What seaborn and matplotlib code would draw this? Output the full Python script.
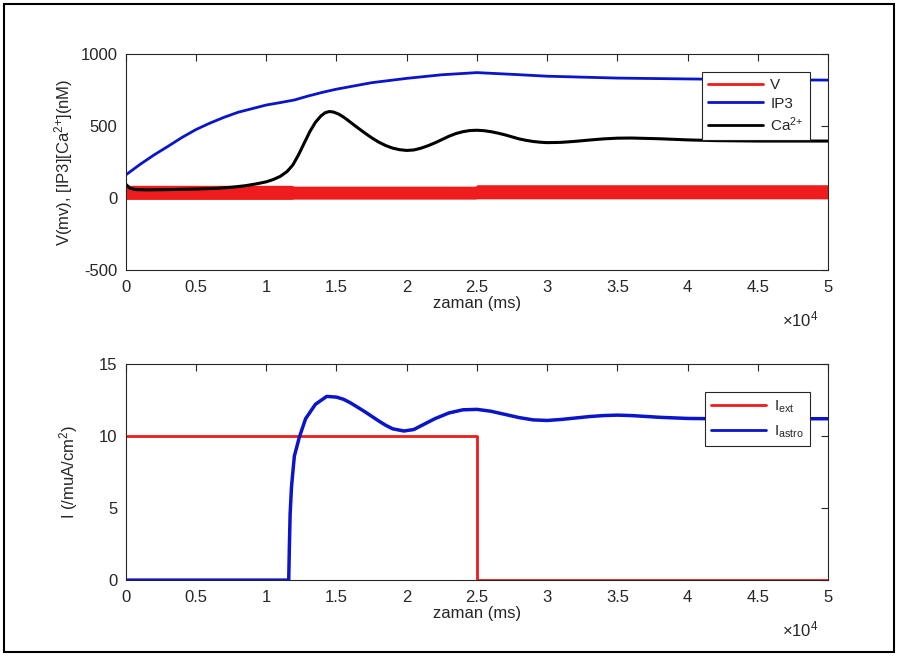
"""
Astrocyte-neuron model: V, IP3, Ca2+ traces and injected currents.
"""

import numpy as np
import pandas as pd
import matplotlib
matplotlib.use('Agg')
import matplotlib.pyplot as plt
from matplotlib.lines import Line2D
from matplotlib.patches import Rectangle
import seaborn as sns

# ---- data (time in ms) ----
ip3_time = [0, 1000, 2000, 3000, 4000, 5000, 6000, 7000,
            8000, 9000, 10000, 11000, 12000, 13000, 14000, 15000, 17500,
            20000, 22500, 25000, 27500, 30000, 35000, 40000, 45000, 50000]
ip3_vals = [160, 232, 298, 358, 420, 475, 520, 560,
            595, 620, 645, 662, 680, 708, 733, 755, 800,
            830, 855, 870, 858, 845, 832, 826, 821, 818]

ca_time = [0, 300, 700, 1500, 3000, 5000, 6500, 7500, 8500, 9300, 10000,
           10500, 11000, 11500, 11900, 12300, 12700, 13100, 13500, 13900,
           14200, 14500, 14800, 15200, 15600, 16000, 16500, 17000, 17500,
           18000, 18500, 19000, 19500, 20000, 20500, 21000, 21500, 22000,
           22500, 23000, 23500, 24000, 24500, 25000, 25500, 26000, 26500,
           27000, 27500, 28000, 28500, 29000, 29500, 30000, 31000, 32000,
           33000, 34000, 35000, 36000, 38000, 40000, 42000, 45000, 50000]
ca_vals = [95, 68, 58, 56, 58, 62, 67, 74, 85, 98, 112,
           128, 150, 185, 230, 300, 380, 460, 525, 570,
           592, 600, 596, 580, 555, 525, 488, 452, 418,
           388, 364, 346, 335, 330, 333, 345, 362, 382,
           405, 428, 447, 460, 468, 470, 467, 460, 450,
           438, 424, 410, 400, 392, 387, 384, 386, 393,
           402, 410, 415, 416, 411, 403, 398, 395, 395]

v_time = [0, 1000, 11800, 12000, 24900, 25000, 50000]
v_high = [88, 88, 88, 82, 82, 92, 92]
v_low = [-10, -10, -10, -8, -8, -6, -6]

iext_time = [0, 25000, 25000, 50000]
iext_vals = [10, 10, 0, 0]

iastro_time = [0, 11600, 11650, 11700, 11800, 12000, 12350, 12800, 13500,
               14300, 15000, 15500, 16000, 17000, 18000, 18500, 19000, 19800,
               20500, 21000, 22000, 23000, 24000, 25000, 26000, 27000, 28000,
               29000, 30000, 31000, 32000, 33000, 34000, 35000, 36000, 37000,
               38000, 40000, 42000, 45000, 50000]
iastro_vals = [0, 0, 2.5, 4.6, 6.5, 8.6, 9.9, 11.2, 12.2,
               12.75, 12.7, 12.55, 12.3, 11.7, 11.05, 10.75, 10.5, 10.35,
               10.45, 10.7, 11.2, 11.6, 11.82, 11.85, 11.72, 11.5, 11.28,
               11.12, 11.08, 11.15, 11.25, 11.35, 11.42, 11.45, 11.42, 11.36,
               11.3, 11.22, 11.2, 11.2, 11.2]

x_ticks = [0, 5000, 10000, 15000, 20000, 25000, 30000, 35000, 40000, 45000, 50000]

RED = '#ee1c1c'
BLUE = '#0a14c8'
BLACK = '#000000'
AXC = '#262626'

sns.set_style('white')
plt.rcParams['font.family'] = ['Liberation Sans', 'DejaVu Sans']
plt.rcParams['mathtext.default'] = 'regular'
plt.rcParams['mathtext.fontset'] = 'custom'
plt.rcParams['mathtext.rm'] = 'Liberation Sans'
plt.rcParams['axes.unicode_minus'] = False

fig = plt.figure(figsize=(9.05, 6.57), dpi=100)
ax1 = fig.add_axes([0.139, 0.589, 0.776, 0.329])
ax2 = fig.add_axes([0.139, 0.117, 0.776, 0.329])


def style_axes(ax, yticks):
    ax.set_xlim(0, 50000)
    ax.set_xticks(x_ticks)
    ax.xaxis.set_major_formatter(plt.FuncFormatter(lambda x, p: f'{x / 1e4:g}'))
    ax.set_yticks(yticks)
    ax.tick_params(direction='in', top=True, right=True, length=5, width=0.8,
                   color=AXC, labelcolor=AXC, labelsize=12)
    ax.tick_params(axis='x', pad=7)
    ax.tick_params(axis='y', pad=6)
    for sp in ax.spines.values():
        sp.set_color(AXC)
        sp.set_linewidth(0.8)
    ax.set_xlabel('zaman (ms)', fontsize=12, color=AXC, labelpad=1)
    ax.text(0.986, -0.23, r'$\times10^4$', transform=ax.transAxes,
            ha='right', va='center', fontsize=12, color=AXC)


# top panel
ax1.fill_between(v_time, v_low, v_high, color=RED, linewidth=0)
sns.lineplot(x=ip3_time, y=ip3_vals, ax=ax1, color=BLUE, linewidth=2,
             estimator=None, sort=False)
sns.lineplot(x=ca_time, y=ca_vals, ax=ax1, color=BLACK, linewidth=2.2,
             estimator=None, sort=False)
ax1.set_ylim(-500, 1000)
style_axes(ax1, [-500, 0, 500, 1000])
ax1.set_ylabel(r'V(mv), [IP3][Ca$^{2{+}}$](nM)', fontsize=12, color=AXC, labelpad=4)
h1 = [Line2D([], [], color=RED, lw=2), Line2D([], [], color=BLUE, lw=2),
      Line2D([], [], color=BLACK, lw=2)]
leg1 = ax1.legend(h1, ['V', 'IP3', r'Ca$^{2{+}}$'], loc='upper right',
                  bbox_to_anchor=(0.974, 0.917), borderaxespad=0, fontsize=11,
                  handlelength=3.6, handletextpad=0.5, fancybox=False,
                  edgecolor=AXC, framealpha=1, borderpad=0.4, labelspacing=0.3)
leg1.get_frame().set_linewidth(0.8)

# bottom panel
sns.lineplot(x=iext_time, y=iext_vals, ax=ax2, color=RED, linewidth=2,
             estimator=None, sort=False)
sns.lineplot(x=iastro_time, y=iastro_vals, ax=ax2, color=BLUE, linewidth=2.5,
             estimator=None, sort=False)
ax2.set_ylim(0, 15)
style_axes(ax2, [0, 5, 10, 15])
ax2.set_ylabel(r'I (/muA/cm$^2$)', fontsize=12, color=AXC, labelpad=14)
h2 = [Line2D([], [], color=RED, lw=2), Line2D([], [], color=BLUE, lw=2)]
leg2 = ax2.legend(h2, [r'I$_{ext}$', r'I$_{astro}$'], loc='upper right',
                  bbox_to_anchor=(0.974, 0.87), borderaxespad=0, fontsize=11,
                  handlelength=3.6, handletextpad=0.5, fancybox=False,
                  edgecolor=AXC, framealpha=1, borderpad=0.4, labelspacing=0.6)
leg2.get_frame().set_linewidth(0.8)

# outer frame of the screenshot
fig.patches.append(Rectangle((4 / 905, 5 / 657), 890 / 905, 648 / 657,
                             transform=fig.transFigure, fill=False,
                             edgecolor='black', linewidth=1.5))

fig.savefig('out.png', dpi=100, facecolor='white')
plt.close(fig)
